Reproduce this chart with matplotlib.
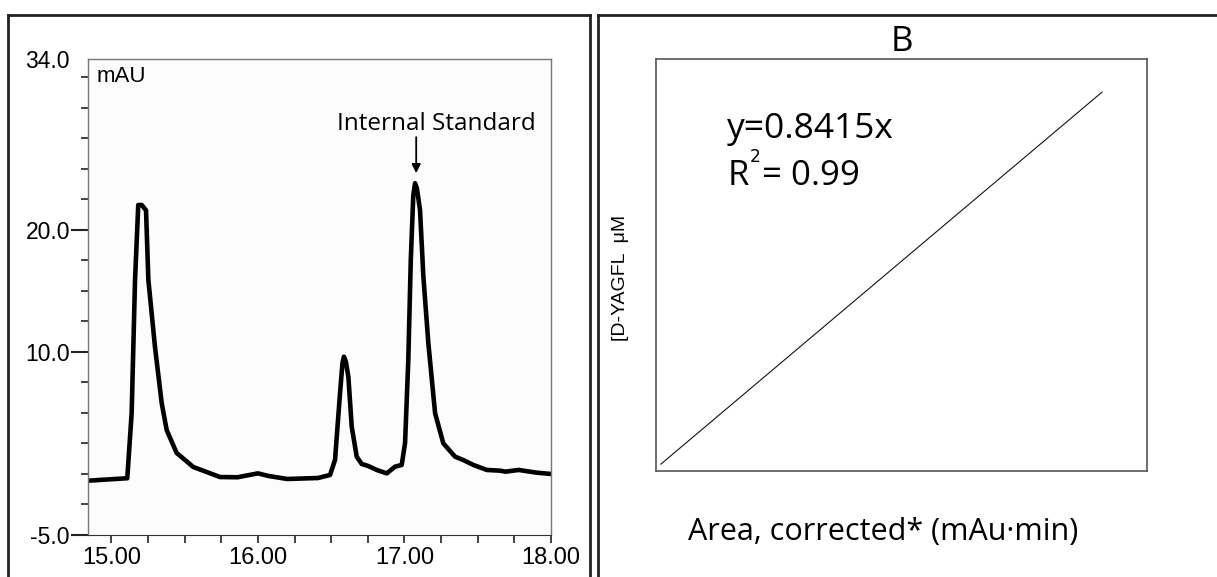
import numpy as np
import matplotlib
matplotlib.use("Agg")
import matplotlib.pyplot as plt
from matplotlib.lines import Line2D
from matplotlib.ticker import MultipleLocator, FixedLocator

# Panel A: chromatogram trace (time in min, absorbance in mAU)
time_min = [14.84, 15.108, 15.138, 15.161, 15.183, 15.207, 15.236, 15.252, 15.297,
            15.343, 15.377, 15.445, 15.559, 15.741, 15.86, 16.00, 16.07, 16.20,
            16.41, 16.492, 16.526, 16.56, 16.577, 16.587, 16.60, 16.617, 16.64,
            16.674, 16.708, 16.753, 16.81, 16.879, 16.936, 16.981, 17.004, 17.026,
            17.043, 17.06, 17.072, 17.085, 17.106, 17.129, 17.163, 17.209, 17.265,
            17.345, 17.402, 17.47, 17.562, 17.652, 17.69, 17.78, 17.90, 18.00]
absorb_mau = [-0.55, -0.35, 5.0, 15.9, 22.04, 22.04, 21.6, 15.9, 10.43,
              5.8, 3.6, 1.72, 0.57, -0.25, -0.27, 0.05, -0.16, -0.41,
              -0.33, -0.08, 1.15, 6.61, 9.1, 9.61, 9.2, 7.97, 3.87,
              1.42, 0.82, 0.65, 0.33, 0.05, 0.6, 0.74, 2.54, 9.34,
              17.53, 22.8, 23.82, 23.4, 21.63, 16.16, 10.7, 4.97, 2.51,
              1.42, 1.14, 0.74, 0.33, 0.27, 0.19, 0.33, 0.11, 0.0]

y_major = [-5.0, 10.0, 20.0, 34.0]
y_labels = ["-5.0", "10.0", "20.0", "34.0"]
x_major = [15.0, 16.0, 17.0, 18.0]
x_labels = ["15.00", "16.00", "17.00", "18.00"]
is_time = 17.08

# Panel B: calibration fit line y = 0.8415x
area_fit = [0.6, 54.5]
conc_fit = [0.50, 45.86]

W, H = 1217, 577
fig = plt.figure(figsize=(W / 100, H / 100), dpi=100)


def box(l, t, r, b):
    return [l / W, 1 - b / H, (r - l) / W, (b - t) / H]


myriad = ["Open Sans", "DejaVu Sans"]
arial = ["Liberation Sans", "DejaVu Sans"]

# ---- panel A ----
ax = fig.add_axes(box(88, 59, 551, 535))
ax.set_facecolor("#fcfcfc")
ax.plot(time_min, absorb_mau, color="black", lw=3.3, solid_joinstyle="round",
        solid_capstyle="round")
ax.set_xlim(14.84, 18.0)
ax.set_ylim(-5, 34)
for s in ["top", "right", "left"]:
    ax.spines[s].set_color("#777777")
    ax.spines[s].set_linewidth(1)
ax.spines["bottom"].set_color("#333333")
ax.yaxis.set_major_locator(FixedLocator(y_major))
ax.set_yticklabels(y_labels, fontsize=16.5, family=arial)
ax.yaxis.set_minor_locator(MultipleLocator(2.5))
ax.xaxis.set_major_locator(FixedLocator(x_major))
ax.set_xticklabels(x_labels, fontsize=17, family=arial)
ax.xaxis.set_minor_locator(MultipleLocator(0.25))
ax.tick_params(axis="y", which="major", length=12, width=1.5, pad=1, color="#222")
ax.tick_params(axis="y", which="minor", length=5, width=1.2, color="#222")
ax.tick_params(axis="x", which="both", length=6, width=1.2, pad=3, color="#222")
ax.yaxis.get_major_ticks()[-1].tick1line.set_markersize(0)
ax.text(0.018, 0.985, "mAU", transform=ax.transAxes, fontsize=16, family=arial,
        va="top", ha="left")
ax.text(is_time + 0.135, 28.2, "Internal Standard", ha="center", va="baseline",
        fontsize=17.5, family=myriad)
ax.annotate("", xy=(is_time, 24.65), xytext=(is_time, 27.6),
            arrowprops=dict(arrowstyle="-|>", color="black", lw=1.3,
                            mutation_scale=13, shrinkA=0, shrinkB=0))

# ---- panel B ----
bx = fig.add_axes(box(656, 59, 1147, 471))
bx.plot(area_fit, conc_fit, color="#111111", lw=0.8)
bx.set_xlim(0, 60)
bx.set_ylim(-0.34, 49.9)
bx.set_xticks([])
bx.set_yticks([])
for s in bx.spines.values():
    s.set_color("#555555")
    s.set_linewidth(1.2)
bx.set_title("B", fontsize=25, family=myriad, pad=2)
bx.text(0.145, 0.83, "y=0.8415x", transform=bx.transAxes, fontsize=25.5,
        family=myriad, va="center")
bx.text(0.145, 0.72, r"R$^{^2}$= 0.99", transform=bx.transAxes, fontsize=25,
        family=myriad, va="center")
bx.text(-0.073, 0.468, "[D-YAGFL  \u03bcM", transform=bx.transAxes, rotation=90,
        fontsize=14, family=arial, ha="center", va="center")
bx.text(0.463, -0.148, "Area, corrected* (mAu\u00b7min)", transform=bx.transAxes,
        fontsize=22, family=myriad, ha="center", va="center")

# ---- panel frames ----
frame = dict(color="#222222", lw=2)
for x0, y0, x1, y1 in [(8, 15, 590, 15), (8, 15, 8, 577), (590, 15, 590, 577),
                       (598, 15, 598, 577), (598, 15, 1217, 15)]:
    fig.add_artist(Line2D([x0 / W, x1 / W], [1 - y0 / H, 1 - y1 / H], **frame))

fig.savefig("out.png", dpi=100)
